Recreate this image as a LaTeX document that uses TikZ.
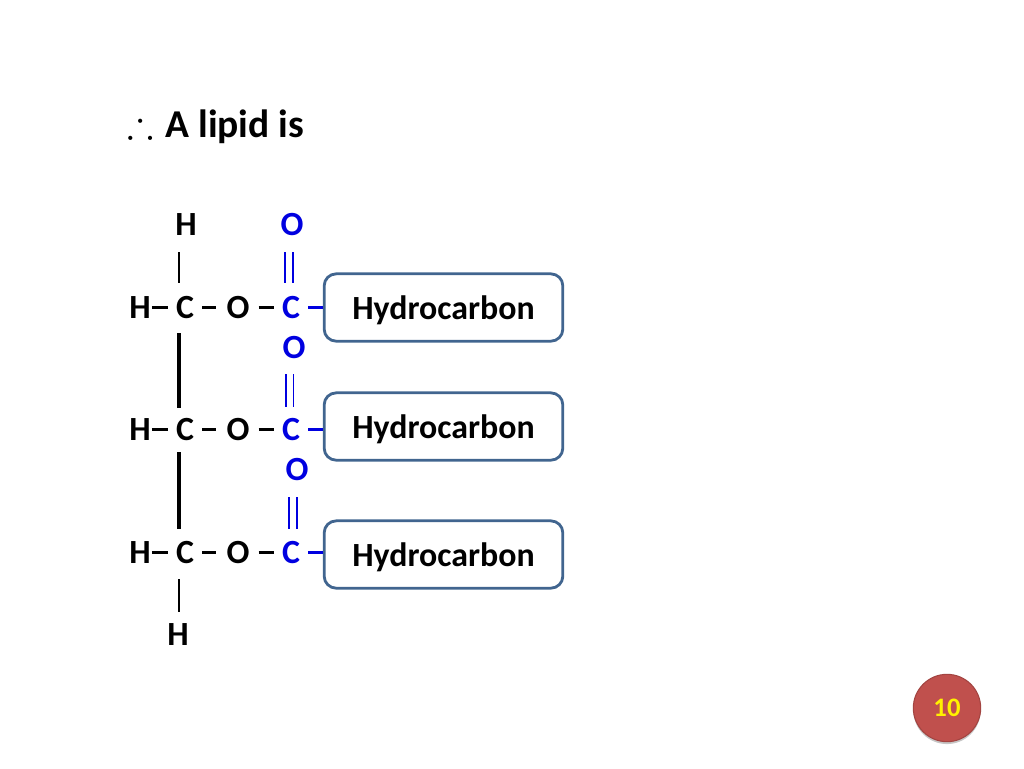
\documentclass[tikz,border=0pt]{standalone}
\usepackage{amssymb}
\usepackage{fontspec}
\setmainfont{Carlito}
\usetikzlibrary{positioning,shadows}
\definecolor{boxline}{HTML}{41658F}
\definecolor{badge}{HTML}{C0504D}
\definecolor{acid}{HTML}{0000E0}

\begin{document}
\begin{tikzpicture}[
  x=0.75pt,y=-0.75pt, % one unit is one pixel of the slide
  node distance=39.75pt, % defines the space between the atoms of a row
  atom/.style={inner sep=0pt,minimum width=15pt,minimum height=19.5pt,text height=16.8pt,text depth=0pt,font=\fontsize{25.4}{27}\selectfont\bfseries}, % style of the black atoms
  acid atom/.style={atom,text=acid}, % style of the blue atoms
  chain box/.style={draw=boxline,line width=2.1pt,rounded corners=9pt,fill=white,minimum width=179pt,minimum height=50.5pt,inner sep=0pt,text height=18.5pt,text depth=0pt,font=\fontsize{25.4}{27}\selectfont\bfseries}, % style of the hydrocarbon boxes
  dash bond/.style={line width=2.25pt}, % style of the short bonds in a row
  thin bond/.style={line width=1.4pt},
  thick bond/.style={line width=2.4pt},
  double bond/.style={draw=acid,line width=1.4pt,double=white,double distance=4.5pt}
  ]

  \useasboundingbox (0,0) rectangle (1024,768);

  \node[anchor=west,inner sep=0pt,font=\fontsize{29.6}{31}\selectfont\bfseries] (title) at (127,127) {$\therefore$\kern2.25pt\ A lipid is};

  % first row
  \node[atom] (C1) at (185,307) {C};
  \node[atom] (H1) [left of=C1,node distance=33.75pt] {H};
  \node[atom] (O1) [right of=C1] {O};
  \node[acid atom] (D1) [right of=O1] {C};
  \node[atom] (Htop) [above of=C1,node distance=62.25pt,xshift=0.75pt] {H};
  \node[acid atom] (A1) at (292,224) {O};
  \node[chain box] (box1) at (443.5,307.5) {Hydrocarbon};

  % second row
  \node[atom] (C2) at (185,429) {C};
  \node[atom] (H2) [left of=C2,node distance=33.75pt] {H};
  \node[atom] (O2) [right of=C2] {O};
  \node[acid atom] (D2) [right of=O2] {C};
  \node[acid atom] (A2) at (294,347) {O};
  \node[chain box] (box2) at (443.5,426.5) {Hydrocarbon};

  % third row
  \node[atom] (C3) at (185,552) {C};
  \node[atom] (H3) [left of=C3,node distance=33.75pt] {H};
  \node[atom] (O3) [right of=C3] {O};
  \node[acid atom] (D3) [right of=O3] {C};
  \node[acid atom] (A3) at (297,469) {O};
  \node[atom] (Hbot) at (178,634) {H};
  \node[chain box] (box3) at (443.5,554.5) {Hydrocarbon};

  % page number
  \node[circle,fill=badge,draw=badge!85!black,line width=0.8pt,minimum size=50.5pt,inner sep=0pt,text=yellow,
    font=\fontsize{20}{22}\selectfont\bfseries,drop shadow={shadow xshift=0pt,shadow yshift=-1.8pt,opacity=0.45}] (page) at (947,708) {10};

  % bonds in the rows
  \foreach \r in {1,2,3} {
    \draw[dash bond,shorten <=0.75pt,shorten >=5.25pt] (H\r.east) -- (C\r.west);
    \draw[dash bond,shorten <=5.25pt,shorten >=7.5pt] (C\r.east) -- (O\r.west);
    \draw[dash bond,shorten <=6.75pt,shorten >=5.25pt] (O\r.east) -- (D\r.west);
    \draw[dash bond,draw=acid,shorten <=5.25pt] (D\r.east) -- (D\r.east -| box\r.west);
  }

  % the carbon chain
  \draw[thin bond,shorten <=11.25pt,shorten >=8.25pt] ([xshift=-5.25pt]Htop.south) -- ([xshift=-4.5pt]C1.north);
  \draw[thick bond,shorten <=9.75pt,shorten >=6pt] ([xshift=-4.5pt]C1.south) -- ([xshift=-4.5pt]C2.north);
  \draw[thick bond,shorten <=7.5pt,shorten >=7.5pt] ([xshift=-4.5pt]C2.south) -- ([xshift=-4.5pt]C3.north);
  \draw[thin bond,shorten <=10.5pt,shorten >=6.75pt] ([xshift=-4.5pt]C3.south) -- ([xshift=0.75pt]Hbot.north);

  % the double bonds
  \draw[double bond,shorten <=11.25pt,shorten >=8.25pt] ([xshift=-2.25pt]A1.south) -- ([xshift=-1.5pt]D1.north);
  \draw[double bond,shorten <=10.5pt,shorten >=6.75pt] ([xshift=-3.375pt]A2.south) -- ([xshift=-1.125pt]D2.north);
  \draw[double bond,shorten <=11.25pt,shorten >=7.5pt] ([xshift=-3pt]A3.south) -- ([xshift=1.5pt]D3.north);
\end{tikzpicture}
\end{document}
